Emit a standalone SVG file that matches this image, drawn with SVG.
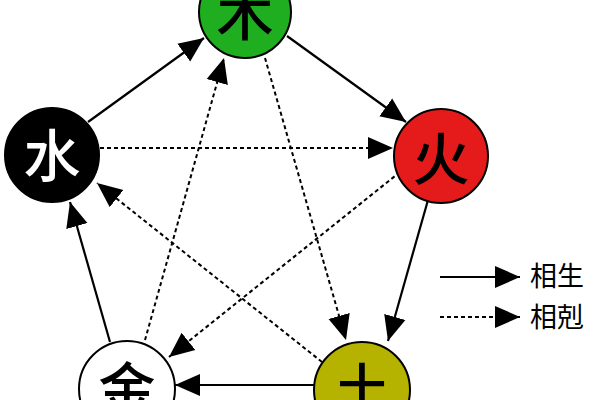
<svg xmlns="http://www.w3.org/2000/svg" width="600" height="400" viewBox="0 0 600 400">
<style>
.c{stroke:#000;stroke-width:2}
.t{font-family:"Noto Sans CJK SC","Noto Sans CJK JP",sans-serif;font-size:57px;font-weight:500;text-anchor:middle;dominant-baseline:central}
.s{fill:none;stroke:#000;stroke-width:2.2;marker-end:url(#ah)}
.d{fill:none;stroke:#000;stroke-width:2;stroke-dasharray:4 3;marker-end:url(#ah)}
.l{font-family:"Noto Sans CJK SC","Noto Sans CJK JP",sans-serif;font-size:27px;fill:#000}
</style>
<defs>
<marker id="ah" markerUnits="userSpaceOnUse" markerWidth="26" markerHeight="24" viewBox="0 0 26 24" refX="25" refY="12" orient="auto">
<path d="M0,1 L25,12 L0,23 Z" fill="#000"/>
</marker>
</defs>
<rect width="600" height="400" fill="#fff"/>
<g id="connectors">
<line class="s" x1="88" y1="122" x2="204" y2="38"/>
<line class="s" x1="287" y1="36" x2="406" y2="122"/>
<line class="s" x1="428" y1="200" x2="388" y2="341"/>
<line class="s" x1="314" y1="385" x2="175" y2="385"/>
<line class="s" x1="110" y1="342" x2="70" y2="202"/>
<line class="d" x1="100" y1="148" x2="393" y2="148"/>
<line class="d" x1="265" y1="58" x2="346" y2="340"/>
<line class="d" x1="322" y1="362" x2="97" y2="183"/>
<line class="d" x1="400" y1="172" x2="169" y2="357"/>
<line class="d" x1="145" y1="340" x2="224" y2="58"/>
</g>
<g id="wood"><circle class="c" cx="245" cy="12" r="46" fill="#1fae1f"/><text class="t" x="245" y="10" fill="#000">木</text></g>
<g id="water"><circle class="c" cx="52" cy="155" r="47" fill="#000"/><text class="t" x="52" y="152" fill="#fff">水</text></g>
<g id="fire"><circle class="c" cx="441" cy="156" r="47" fill="#e51b1b"/><text class="t" x="441" y="155" fill="#000">火</text></g>
<g id="metal"><circle class="c" cx="127" cy="389" r="48" fill="#fff"/><text class="t" x="127" y="385" fill="#000">金</text></g>
<g id="earth"><circle class="c" cx="362" cy="390" r="48" fill="#b5b200"/><text class="t" x="362" y="386" fill="#000">土</text></g>
<g id="legend">
<line class="s" x1="440" y1="277" x2="520" y2="277"/>
<line class="d" x1="440" y1="317" x2="520" y2="317"/>
<text class="l" x="530" y="286">相生</text>
<text class="l" x="530" y="327">相剋</text>
</g>
</svg>
